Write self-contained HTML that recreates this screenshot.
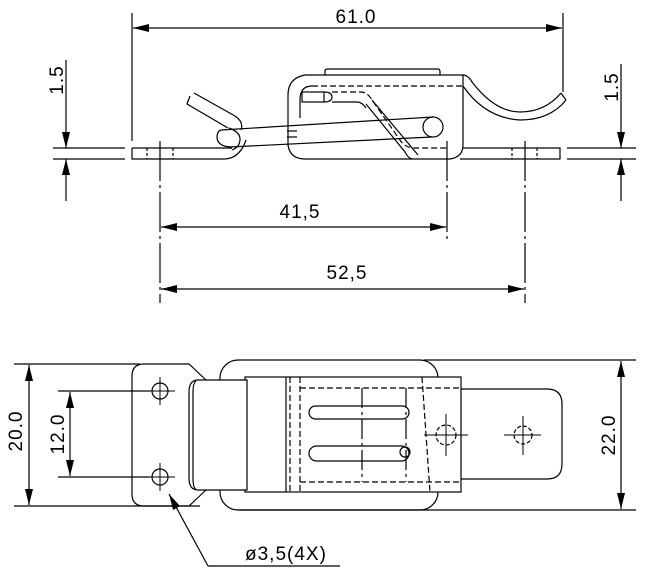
<!DOCTYPE html>
<html><head><meta charset="utf-8"><style>
html,body{margin:0;padding:0;background:#fff}
svg{display:block}
text{font-family:"Liberation Sans",sans-serif;fill:#000;letter-spacing:1px}
</style></head><body>
<svg width="649" height="573" viewBox="0 0 649 573" xmlns="http://www.w3.org/2000/svg">
<defs>
<marker id="a" viewBox="0 0 16 8" refX="16" refY="4" markerWidth="16" markerHeight="8" markerUnits="userSpaceOnUse" orient="auto-start-reverse"><path d="M0,0 L16,4 L0,8 Z" fill="#000"/></marker>
</defs>
<g stroke="#000" stroke-width="1.2" fill="none">
<line x1="132" y1="13" x2="132" y2="141"/>
<line x1="563" y1="13" x2="563" y2="92"/>
<line x1="133" y1="28" x2="562" y2="28" marker-start="url(#a)" marker-end="url(#a)"/>
<line x1="66" y1="60" x2="66" y2="148" marker-end="url(#a)"/>
<line x1="66" y1="201" x2="66" y2="159" marker-end="url(#a)"/>
<line x1="53" y1="148" x2="125" y2="148"/><line x1="53" y1="159" x2="125" y2="159"/>
<line x1="621" y1="64" x2="621" y2="148" marker-end="url(#a)"/>
<line x1="621" y1="201" x2="621" y2="159" marker-end="url(#a)"/>
<line x1="567" y1="148" x2="636" y2="148"/><line x1="567" y1="159" x2="636" y2="159"/>
<line x1="160" y1="141" x2="160" y2="303" stroke-dasharray="40,4,3,4"/>
<line x1="447" y1="141" x2="447" y2="241" stroke-dasharray="40,4,3,4"/>
<line x1="525" y1="141" x2="525" y2="303" stroke-dasharray="40,4,3,4"/>
<line x1="161" y1="227" x2="446" y2="227" marker-start="url(#a)" marker-end="url(#a)"/>
<line x1="161" y1="289" x2="524" y2="289" marker-start="url(#a)" marker-end="url(#a)"/>
<path d="M132,148 H232 M132,148 V159 H225 Q240,158 246,140"/>
<line x1="147" y1="148" x2="147" y2="159" stroke-dasharray="3,2"/>
<line x1="173" y1="148" x2="173" y2="159" stroke-dasharray="3,2"/>
<path d="M463,148 H560 V159 H460"/>
<line x1="512" y1="148" x2="512" y2="159" stroke-dasharray="3,2"/>
<line x1="537" y1="148" x2="537" y2="159" stroke-dasharray="3,2"/>
<path d="M463,75 H305 Q288,78 288,95 V145 Q290,159 305,159 H450 Q463,157 463,145 Z"/>
<path d="M300,118 V100 Q300,86 312,86"/>
<line x1="312" y1="86" x2="463" y2="86" stroke-dasharray="6,3"/>
<path d="M325,75 V71 Q325,69 328,69 H438 Q440,69 440,72 V75"/>
<rect x="302" y="92" width="22" height="10"/>
<path d="M324,92 Q332,92 332,97 Q332,102 324,102"/>
<path d="M332,92 H362 Q368,93 372,100 L400,140 Q405,148 415,148 H447" stroke-dasharray="6,3"/>
<path d="M332,102 H357 Q362,102 366,108"/>
<path d="M366,104 L405,152 Q408,158 412,159"/>
<path d="M372,100 L418,155"/>
<line x1="287" y1="131" x2="297" y2="131"/><line x1="287" y1="137" x2="297" y2="137"/>
<path d="M463,75 Q468,75 472,82 Q495,112 520,112 Q545,112 561,93"/>
<path d="M463,86 Q485,118 520,120 Q550,120 566,100"/>
<line x1="561" y1="93" x2="566" y2="100"/>
<line x1="221" y1="130" x2="433" y2="117"/>
<line x1="230" y1="147" x2="432" y2="137"/>
<path d="M221,130 Q217,131 217,138 Q218,146 230,147"/>
<path d="M229,128 Q240,132 240,139 Q240,147 232,150"/>
<circle cx="433" cy="127" r="10"/>
<path d="M190,96 L187,104 L228,128 M194,93 L235,116 Q244,122 241,130"/>
<!-- BOTTOM VIEW -->
<line x1="14" y1="364" x2="140" y2="364"/>
<line x1="14" y1="506" x2="200" y2="506"/>
<line x1="29" y1="365" x2="29" y2="505" marker-start="url(#a)" marker-end="url(#a)"/>
<line x1="58" y1="391" x2="150" y2="391"/>
<line x1="58" y1="477" x2="150" y2="477"/>
<line x1="70" y1="392" x2="70" y2="476" marker-start="url(#a)" marker-end="url(#a)"/>
<line x1="424" y1="360" x2="636" y2="360"/>
<line x1="239" y1="510" x2="636" y2="510"/>
<line x1="621" y1="361" x2="621" y2="509" marker-start="url(#a)" marker-end="url(#a)"/>
<path d="M144,364 H189 L206,380 M206,490 L189,506 H144 Q132,506 132,494 V376 Q132,364 144,364"/>
<circle cx="160" cy="391" r="8"/><circle cx="160" cy="477" r="8"/>
<path d="M146,391 H175 M160,377 V405 M146,477 H175 M160,463 V491" stroke-width="1"/>
<rect x="220" y="360" width="218" height="150" rx="18"/>
<rect x="245" y="377" width="216" height="115" fill="#fff"/>
<path d="M247,380 H198 Q189,380 189,392 V478 Q189,490 198,490 H247 Z" fill="#fff"/>
<path d="M196,381 Q193,383 193,392 V478 Q193,488 196,489"/>
<line x1="286" y1="377" x2="286" y2="492"/>
<line x1="290" y1="377" x2="290" y2="492" stroke-dasharray="6,3"/>
<line x1="300" y1="377" x2="300" y2="492" stroke-dasharray="6,3"/>
<line x1="300" y1="388" x2="461" y2="388" stroke-dasharray="6,3"/>
<line x1="300" y1="482" x2="461" y2="482" stroke-dasharray="6,3"/>
<line x1="362" y1="388" x2="362" y2="482" stroke-dasharray="20,4,3,4"/>
<line x1="406" y1="388" x2="406" y2="482" stroke-dasharray="20,4,3,4"/>
<line x1="422" y1="377" x2="430" y2="492" stroke-dasharray="6,3"/>
<rect x="309" y="406" width="100" height="13" rx="6.5"/>
<rect x="309" y="446" width="100" height="15" rx="7.5"/>
<circle cx="405" cy="452" r="5"/>
<path d="M461,389 H547 Q562,389 562,404 V464 Q562,479 547,479 H461"/>
<circle cx="446" cy="435" r="10" stroke-dasharray="4,2"/>
<circle cx="523" cy="435" r="9" stroke-dasharray="4,2"/>
<path d="M424,435 H468 M446,414 V456 M504,435 H541 M523,416 V455" stroke-width="1"/>
<line x1="208" y1="566" x2="169" y2="494" marker-end="url(#a)"/>
<line x1="208" y1="566" x2="340" y2="566"/>
</g>
<g font-size="19">
<text x="356" y="23" text-anchor="middle">61.0</text>
<text x="300" y="218" text-anchor="middle">41,5</text>
<text x="347" y="279" text-anchor="middle">52,5</text>
<text x="245" y="560">ø3,5(4X)</text>
<text transform="translate(63,80) rotate(-90)" text-anchor="middle">1.5</text>
<text transform="translate(618,87) rotate(-90)" text-anchor="middle">1.5</text>
<text transform="translate(22,431) rotate(-90)" text-anchor="middle">20.0</text>
<text transform="translate(64,434) rotate(-90)" text-anchor="middle">12.0</text>
<text transform="translate(615,435) rotate(-90)" text-anchor="middle">22.0</text>
</g>
</svg>
</body></html>
